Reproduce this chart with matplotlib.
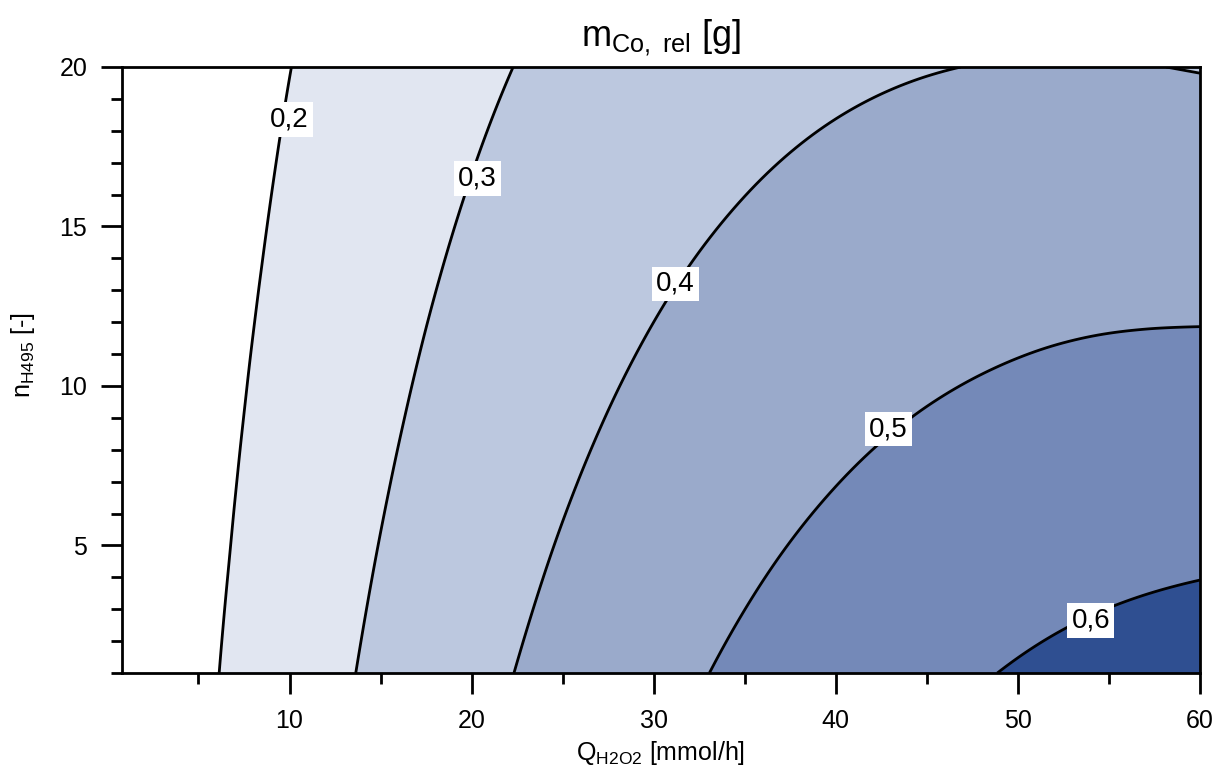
import numpy as np
import matplotlib
matplotlib.use('Agg')
import matplotlib.pyplot as plt
import matplotlib.tri as mtri
from matplotlib.ticker import MultipleLocator

plt.rcParams.update({
    'font.family': ['Liberation Sans', 'DejaVu Sans'],
    'mathtext.fontset': 'custom',
    'mathtext.rm': 'Liberation Sans',
    'mathtext.it': 'Liberation Sans',
    'mathtext.default': 'regular',
    'axes.linewidth': 2.0,
})

# ==========================================
# Data (m_Co,rel in g)
# ==========================================
q_h2o2 = [0.8, 5, 10, 15, 20, 25, 30, 35, 40, 45, 50, 55, 60]   # mmol/h
n_h495 = [1, 4, 7, 10, 13, 16, 20]                                # -

m_n1 = [0.1211, 0.1837, 0.2531, 0.3168, 0.3749, 0.4274, 0.4742, 0.5153, 0.5509, 0.5808, 0.6050, 0.6236, 0.6366]
m_n4 = [0.1179, 0.1781, 0.2445, 0.3054, 0.3605, 0.4101, 0.4540, 0.4922, 0.5248, 0.5518, 0.5731, 0.5888, 0.5989]
m_n7 = [0.1147, 0.1725, 0.2360, 0.2939, 0.3461, 0.3928, 0.4337, 0.4691, 0.4987, 0.5228, 0.5412, 0.5540, 0.5611]
m_n10 = [0.1115, 0.1669, 0.2275, 0.2824, 0.3318, 0.3755, 0.4135, 0.4459, 0.4727, 0.4938, 0.5093, 0.5192, 0.5234]
m_n13 = [0.1084, 0.1612, 0.2189, 0.2710, 0.3174, 0.3582, 0.3933, 0.4228, 0.4466, 0.4648, 0.4774, 0.4843, 0.4856]
m_n16 = [0.1052, 0.1556, 0.2104, 0.2595, 0.3030, 0.3409, 0.3731, 0.3996, 0.4206, 0.4358, 0.4455, 0.4495, 0.4479]
m_n20 = [0.1010, 0.1481, 0.1990, 0.2442, 0.2838, 0.3178, 0.3461, 0.3688, 0.3858, 0.3972, 0.4030, 0.4031, 0.3975]

levels = [0.2, 0.3, 0.4, 0.5, 0.6]
label_x = [10.0, 20.3, 31.2, 42.9, 54.0]
label_y = [18.35, 16.5, 13.2, 8.65, 2.65]

fill_colors = ['#ffffff', '#e1e6f1', '#bcc8df', '#9aaacb', '#7489b8', '#2f4f91']

# ==========================================
# Build surface
# ==========================================
m_grid = np.array([m_n1, m_n4, m_n7, m_n10, m_n13, m_n16, m_n20])
Q, N = np.meshgrid(q_h2o2, n_h495)
triang = mtri.Triangulation(Q.ravel(), N.ravel())
refiner = mtri.UniformTriRefiner(triang)
tri_fine, m_fine = refiner.refine_field(m_grid.ravel(), subdiv=4)

# ==========================================
# Plot
# ==========================================
fig = plt.figure(figsize=(12.25, 7.72), dpi=100)
ax = fig.add_axes([122 / 1225, 1 - 673 / 772, 1078 / 1225, 606 / 772])

fill_levels = [0.0] + levels + [1.0]
ax.tricontourf(tri_fine, m_fine, levels=fill_levels, colors=fill_colors)
ax.tricontour(tri_fine, m_fine, levels=levels, colors='black', linewidths=2.0)

for lev, lx, ly in zip(levels, label_x, label_y):
    ax.text(lx, ly, f'{lev:.1f}'.replace('.', ','), ha='center', va='center',
            fontsize=20, zorder=5,
            bbox=dict(facecolor='white', edgecolor='none', pad=3))

ax.set_xlim(0.8, 60)
ax.set_ylim(1, 20)
ax.set_xticks([10, 20, 30, 40, 50, 60])
ax.set_yticks([5, 10, 15, 20])
ax.xaxis.set_minor_locator(MultipleLocator(5))
ax.yaxis.set_minor_locator(MultipleLocator(1))
ax.tick_params(which='major', length=15, width=2.0, labelsize=18)
ax.tick_params(axis='x', which='major', pad=11)
ax.tick_params(axis='y', which='major', pad=10)
ax.tick_params(which='minor', length=8, width=2.0)
for s in ax.spines.values():
    s.set_zorder(6)

ax.set_title(r'm$_{Co,\ rel}$ [g]', fontsize=26, pad=15)
ax.set_xlabel(r'Q$_{H2O2}$ [mmol/h]', fontsize=18, labelpad=4)
ax.set_ylabel(r'n$_{H495}$ [-]', fontsize=18)
ax.yaxis.set_label_coords(-0.079, 0.525)

fig.savefig('out.png', dpi=100)
